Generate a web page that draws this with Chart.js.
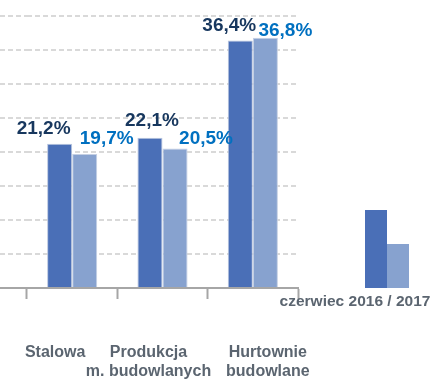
<!DOCTYPE html>
<html>
<head>
<meta charset="utf-8">
<script src="https://cdn.jsdelivr.net/npm/chart.js@4.4.1/dist/chart.umd.min.js"></script>
<style>
  html, body { margin: 0; padding: 0; background: #fff; }
  #wrap { position: relative; width: 443px; height: 389px; }
</style>
</head>
<body>
<div id="wrap"><canvas id="chart"></canvas></div>
<script>
// data
const categories = ['Stalowa', ['Produkcja', 'm. budowlanych'], ['Hurtownie', 'budowlane']];
const values2016 = [21.2, 22.1, 36.4];
const values2017 = [19.7, 20.5, 36.8];
const seriesNames = ['czerwiec 2016', 'czerwiec 2017'];
const legendText = 'czerwiec 2016 / 2017';

const FONT = '"Liberation Sans", Arial, sans-serif';
const DARK = '#4a6fb7';
const LIGHT = '#87a2cf';
const GRID = '#d9d9d9';
const AXIS = '#a6a6a6';

const fmt = (v) => v.toFixed(1).replace('.', ',') + '%';

// value labels were nudged by hand in the original, keep those nudges here
const valueLabels = {
  id: 'valueLabels',
  afterDatasetsDraw(chart, args, opts) {
    const ctx = chart.ctx;
    ctx.save();
    ctx.font = 'bold 19px ' + FONT;
    ctx.textAlign = 'center';
    ctx.textBaseline = 'middle';
    chart.data.datasets.forEach((ds, di) => {
      const meta = chart.getDatasetMeta(di);
      ctx.fillStyle = opts.colors[di];
      meta.data.forEach((bar, i) => {
        const [dx, dy] = opts.offsets[di][i];
        ctx.fillText(fmt(ds.data[i]), bar.x + dx, bar.y + dy);
      });
    });
    ctx.restore();
  }
};

// shift category labels sideways like in the original
const shiftLabels = {
  id: 'shiftLabels',
  beforeDraw(chart, args, opts) {
    const scale = chart.scales.x;
    if (!scale.getLabelItems) return;
    const items = scale.getLabelItems(chart.chartArea);
    items.forEach((item, i) => {
      if (!item._shifted && item.options && item.options.translation) {
        item.options.translation[0] += opts.dx[i] || 0;
        item._shifted = true;
      }
    });
  }
};

// little two-bar key on the right
const sideKey = {
  id: 'sideKey',
  afterDraw(chart, args, opts) {
    const ctx = chart.ctx;
    const area = chart.chartArea;
    const x0 = area.right + opts.gap;
    const base = area.bottom;
    ctx.save();
    ctx.fillStyle = DARK;
    ctx.fillRect(x0, base - opts.h1, opts.w, opts.h1);
    ctx.fillStyle = LIGHT;
    ctx.fillRect(x0 + opts.w, base - opts.h2, opts.w, opts.h2);
    ctx.font = 'bold 15.5px ' + FONT;
    ctx.fillStyle = '#5b6570';
    ctx.textAlign = 'center';
    ctx.textBaseline = 'middle';
    ctx.fillText(legendText, x0 - 10, base + 14);
    ctx.restore();
  }
};

new Chart(document.getElementById('chart'), {
  type: 'bar',
  data: {
    labels: categories,
    datasets: [
      { label: seriesNames[0], data: values2016, backgroundColor: DARK, borderColor: '#b9c5de', borderWidth: 1 },
      { label: seriesNames[1], data: values2017, backgroundColor: LIGHT, borderColor: '#c4cfe3', borderWidth: 1 }
    ]
  },
  options: {
    responsive: true,
    maintainAspectRatio: false,
    animation: false,
    categoryPercentage: 0.555,
    barPercentage: 1,
    layout: { padding: { left: 0, top: 16, right: 145, bottom: 8 } },
    plugins: {
      legend: { display: false },
      tooltip: { enabled: false },
      valueLabels: {
        colors: ['#17375e', '#0070c0'],
        offsets: [
          [[-16, -15], [2, -17], [-11, -15]],
          [[22, -15], [31, -10], [20, -7]]
        ]
      },
      shiftLabels: { dx: [-17, -14, 15] },
      sideKey: { gap: 67, w: 22, h1: 78, h2: 44 }
    },
    scales: {
      x: {
        offset: true,
        afterFit: (s) => { s.height = 93; s.paddingLeft = 0; s.paddingRight = 0; },
        grid: {
          offset: true,
          drawOnChartArea: false,
          drawTicks: true,
          tickLength: 11,
          tickColor: AXIS,
          tickWidth: 2
        },
        border: { display: true, color: AXIS, width: 2 },
        ticks: {
          color: '#5b6570',
          font: { family: FONT, size: 16, weight: 'bold', lineHeight: 1.2 },
          padding: 44,
          maxRotation: 0,
          autoSkip: false
        }
      },
      y: {
        min: 0,
        max: 40,
        afterFit: (s) => { s.width = 27; },
        ticks: { display: false, stepSize: 5 },
        grid: {
          color: (c) => c.tick && c.tick.value === 0 ? AXIS : GRID,
          lineWidth: 2,
          drawTicks: true,
          tickLength: 27,
          tickColor: (c) => c.tick && c.tick.value === 0 ? AXIS : GRID,
          tickWidth: 2,
          tickBorderDash: (c) => c.tick && c.tick.value === 0 ? [] : [5, 3]
        },
        border: {
          display: false,
          dash: (c) => c.tick && c.tick.value === 0 ? [] : [5, 3]
        }
      }
    }
  },
  plugins: [valueLabels, shiftLabels, sideKey]
});
</script>
</body>
</html>
